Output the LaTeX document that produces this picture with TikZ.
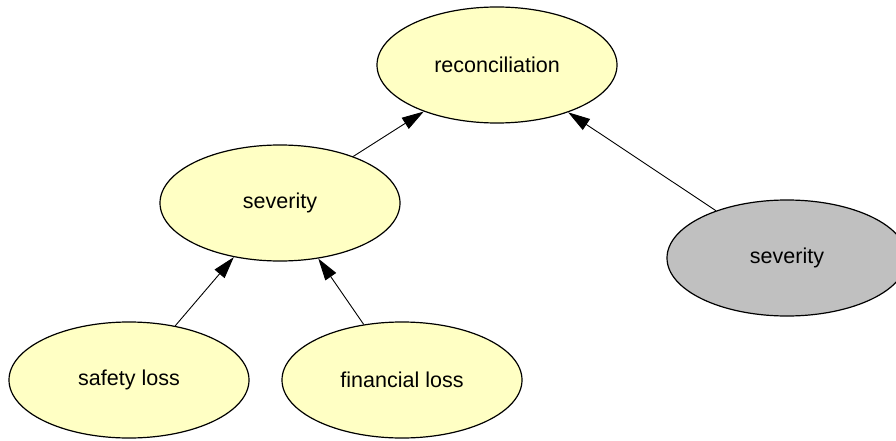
\documentclass[tikz,border=0pt]{standalone}
\usepackage{fontspec}
\setmainfont{Liberation Sans}
\usetikzlibrary{arrows.meta,shapes.geometric}

\definecolor{nodeyellow}{RGB}{255,255,196}
\definecolor{nodegrey}{RGB}{192,192,192}

\begin{document}
\begin{tikzpicture}[x=1pt,y=-1pt,
    varnode/.style={ellipse, draw, line width=1.2pt, fill=nodeyellow,
        minimum width=240pt, minimum height=116pt, inner sep=0pt,
        font=\fontsize{21.5}{25}\selectfont},
    greynode/.style={varnode, fill=nodegrey},
    link/.style={line width=0.9pt, -{Triangle[length=22pt,width=13pt]}}]
    \useasboundingbox (0,0) rectangle (896,441);
    \fill[white] (0,0) rectangle (896,441);

    \node[varnode] (recon) at (497,65) {reconciliation};
    \node[varnode] (sev) at (280,203) {severity};
    \node[greynode] (sevobs) at (787,258) {severity};
    \node[varnode] (safety) at (129,380) {safety loss};
    \node[varnode] (financial) at (402,380) {financial loss};

    % arcs point from child to parent
    \draw[link] (sev) -- (recon);
    \draw[link] (sevobs) -- (recon);
    \draw[link] (safety) -- (sev);
    \draw[link] (financial) -- (sev);
\end{tikzpicture}
\end{document}
